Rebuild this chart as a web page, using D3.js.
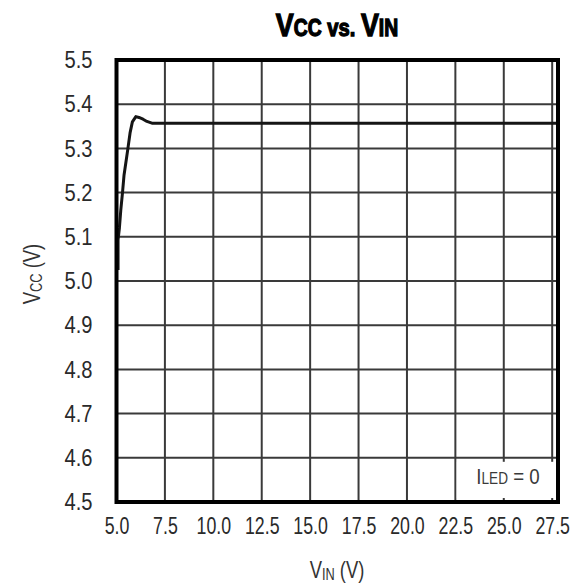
<!DOCTYPE html>
<html>
<head>
<meta charset="utf-8">
<script src="https://cdn.jsdelivr.net/npm/d3@7"></script>
<style>
  html, body { margin: 0; padding: 0; background: #fff; }
  svg text { font-family: "Liberation Sans", Arial, sans-serif; }
</style>
</head>
<body>
<svg id="chart" width="578" height="586"></svg>
<script>
// ---- data ----
const vin = [5.08, 5.08, 5.15, 5.22, 5.31, 5.39, 5.49, 5.59, 5.70, 5.82, 6.00, 6.16, 6.37, 6.57, 6.83, 10.0, 15.0, 20.0, 25.0, 27.8];
const vcc = [5.025, 5.093, 5.12, 5.16, 5.20, 5.24, 5.27, 5.30, 5.335, 5.36, 5.372, 5.37, 5.366, 5.361, 5.357, 5.357, 5.357, 5.357, 5.357, 5.357];
const xTicks = [5.0, 7.5, 10.0, 12.5, 15.0, 17.5, 20.0, 22.5, 25.0, 27.5];
const yTicks = [4.5, 4.6, 4.7, 4.8, 4.9, 5.0, 5.1, 5.2, 5.3, 5.4, 5.5];
const xDomain = [5.0, 27.8];
const yDomain = [4.5, 5.5];

// ---- layout ----
const svg = d3.select("#chart");
const L = 116.5, R = 558, T = 60, B = 502;
const x = d3.scaleLinear().domain(xDomain).range([L, R]);
const y = d3.scaleLinear().domain(yDomain).range([B, T]);

// grid
const grid = svg.append("g");
grid.selectAll("line.v").data(xTicks.slice(1)).join("line")
  .attr("x1", d => x(d)).attr("x2", d => x(d))
  .attr("y1", T).attr("y2", B)
  .attr("stroke", "#3a3a3a").attr("stroke-width", 2);
grid.selectAll("line.h").data(yTicks.slice(1, -1)).join("line")
  .attr("x1", L).attr("x2", R)
  .attr("y1", d => y(d)).attr("y2", d => y(d))
  .attr("stroke", "#3a3a3a").attr("stroke-width", 2);

// legend box (white background covering grid, leaving small tick stubs)
svg.append("rect")
  .attr("x", x(22.5) + 1.5).attr("y", y(4.6) + 4)
  .attr("width", R - x(22.5) - 3).attr("height", B - y(4.6) - 8)
  .attr("fill", "#fff");
svg.append("rect")
  .attr("x", x(22.5) + 1.5).attr("y", y(4.6) + 1.5)
  .attr("width", 40).attr("height", B - y(4.6) - 3)
  .attr("fill", "#fff");
const lg = svg.append("text")
  .attr("transform", "translate(508,484) scale(0.85,1)")
  .attr("text-anchor", "middle")
  .attr("fill", "#3a3a3a")
  .attr("font-size", 22);
lg.append("tspan").text("I");
lg.append("tspan").attr("font-size", 16).text("LED");
lg.append("tspan").text(" = 0");

// curve
const line = d3.line().x((d, i) => x(vin[i])).y(d => y(d));
svg.append("path")
  .datum(vcc)
  .attr("d", line)
  .attr("fill", "none")
  .attr("stroke", "#151515")
  .attr("stroke-width", 3)
  .attr("stroke-linejoin", "round");

// border
svg.append("rect")
  .attr("x", L).attr("y", T).attr("width", R - L).attr("height", B - T)
  .attr("fill", "none").attr("stroke", "#000").attr("stroke-width", 4);

// axes (labels only)
const xAxis = d3.axisBottom(x).tickValues(xTicks).tickFormat(d3.format(".1f")).tickSize(0).tickPadding(0);
const gx = svg.append("g").attr("transform", `translate(0,${B + 15})`).call(xAxis);
gx.select(".domain").remove();
gx.selectAll("text").attr("font-size", 24).attr("fill", "#2a2a2a").attr("dy", "0.71em")
  .attr("font-family", "Liberation Sans, sans-serif")
  .attr("transform", "scale(0.74,1)");

const yAxis = d3.axisLeft(y).tickValues(yTicks).tickFormat(d3.format(".1f")).tickSize(0).tickPadding(0);
const gy = svg.append("g").attr("transform", `translate(${L - 24},0)`).call(yAxis);
gy.select(".domain").remove();
gy.selectAll("text").attr("font-size", 24).attr("fill", "#2a2a2a")
  .attr("font-family", "Liberation Sans, sans-serif")
  .attr("transform", "scale(0.84,1)");

// title
const title = svg.append("text")
  .attr("transform", "translate(337,36) scale(0.84,1)")
  .attr("text-anchor", "middle")
  .attr("font-weight", "bold")
  .attr("font-size", 32)
  .attr("fill", "#000")
  .attr("stroke", "#000")
  .attr("stroke-width", 1.3);
title.append("tspan").text("V");
title.append("tspan").attr("font-size", 23).text("CC");
title.append("tspan").attr("font-size", 24).text(" vs. ");
title.append("tspan").text("V");
title.append("tspan").attr("font-size", 23).text("IN");

// x title
const xt = svg.append("text")
  .attr("transform", "translate(337,578) scale(0.8,1)")
  .attr("text-anchor", "middle")
  .attr("font-size", 23)
  .attr("fill", "#333");
xt.append("tspan").text("V");
xt.append("tspan").attr("font-size", 16).attr("dy", 2).text("IN");
xt.append("tspan").attr("dy", -2).text(" (V)");

// y title
const yt = svg.append("text")
  .attr("transform", "translate(40,274) rotate(-90) scale(0.8,1)")
  .attr("text-anchor", "middle")
  .attr("font-size", 23)
  .attr("fill", "#333");
yt.append("tspan").text("V");
yt.append("tspan").attr("font-size", 16).attr("dy", 2).text("CC");
yt.append("tspan").attr("dy", -2).text(" (V)");
</script>
</body>
</html>
